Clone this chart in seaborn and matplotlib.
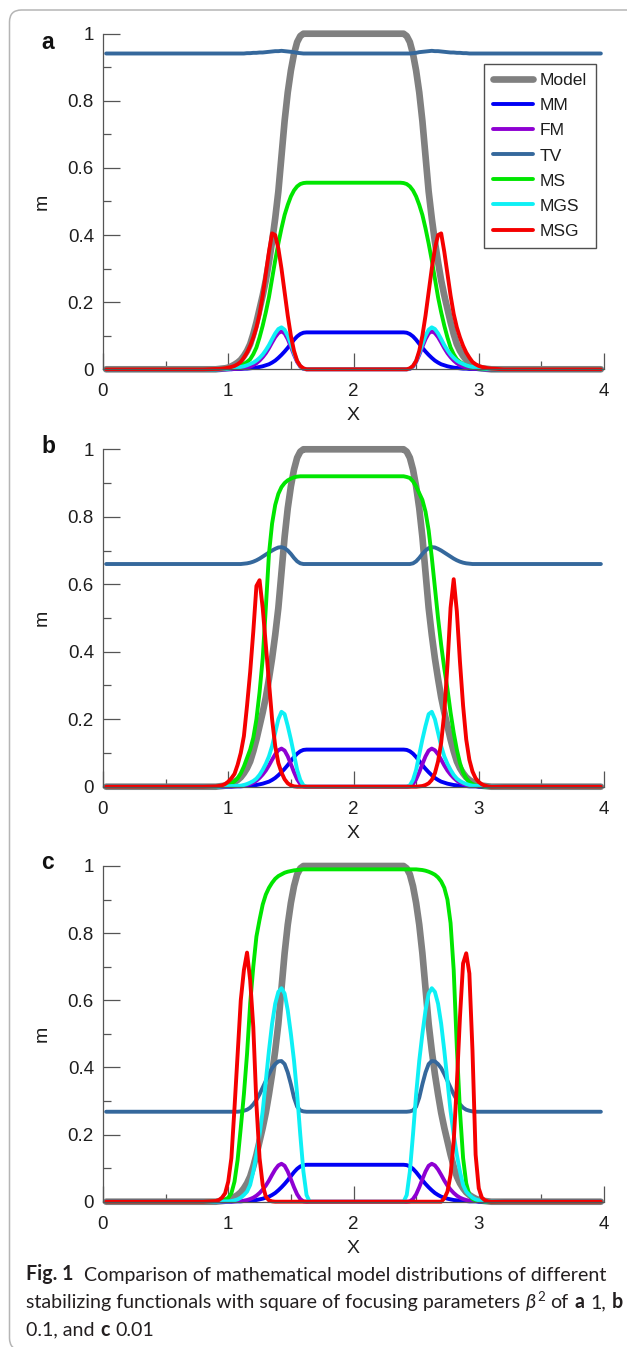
import matplotlib
matplotlib.use("Agg")
import matplotlib.pyplot as plt
import seaborn as sns
import pandas as pd
from matplotlib.lines import Line2D
from matplotlib.patches import FancyBboxPatch
from matplotlib.transforms import IdentityTransform

# ---------------- data ----------------
X = [0.025, 0.8,
     0.9, 0.925, 0.95, 0.975, 1.0, 1.025, 1.05, 1.075, 1.1, 1.125, 1.15, 1.175, 1.2, 1.225, 1.25, 1.275,
     1.3, 1.325, 1.35, 1.375, 1.4, 1.425, 1.45, 1.475, 1.5, 1.525, 1.55, 1.575, 1.6, 1.625, 1.65, 1.675, 1.7,
     2.3, 2.325, 2.35, 2.375, 2.4, 2.425, 2.45, 2.475, 2.5, 2.525, 2.55, 2.575, 2.6, 2.625, 2.65, 2.675,
     2.7, 2.725, 2.75, 2.775, 2.8, 2.825, 2.85, 2.875, 2.9, 2.925, 2.95, 2.975, 3.0, 3.025, 3.05, 3.075, 3.1,
     3.2, 3.975]

MODEL = [0, 0,
         0.0, 0.001, 0.002, 0.003, 0.005, 0.009, 0.014, 0.02, 0.028, 0.04, 0.055, 0.075, 0.105, 0.14, 0.18, 0.22,
         0.265, 0.32, 0.38, 0.45, 0.53, 0.635, 0.74, 0.825, 0.89, 0.94, 0.975, 0.993, 1.0, 1.0, 1.0, 1.0, 1.0,
         1.0, 1.0, 1.0, 1.0, 1.0, 0.993, 0.975, 0.94, 0.89, 0.825, 0.74, 0.635, 0.53, 0.45, 0.38, 0.32,
         0.265, 0.22, 0.18, 0.14, 0.105, 0.075, 0.055, 0.04, 0.028, 0.02, 0.014, 0.009, 0.005, 0.003, 0.002, 0.001, 0.0,
         0, 0]
MM = [0, 0,
      0, 0, 0, 0, 0, 0, 0.001, 0.001, 0.001, 0.002, 0.002, 0.003, 0.004, 0.005, 0.007, 0.009,
      0.012, 0.015, 0.02, 0.026, 0.034, 0.043, 0.053, 0.064, 0.076, 0.088, 0.098, 0.105, 0.109, 0.11, 0.11, 0.11, 0.11,
      0.11, 0.11, 0.11, 0.11, 0.11, 0.109, 0.105, 0.098, 0.088, 0.076, 0.064, 0.053, 0.043, 0.034, 0.026, 0.02,
      0.015, 0.012, 0.009, 0.007, 0.005, 0.004, 0.003, 0.002, 0.002, 0.001, 0.001, 0.001, 0, 0, 0, 0, 0,
      0, 0]
FM = [0, 0,
      0, 0, 0, 0, 0, 0.001, 0.001, 0.002, 0.002, 0.003, 0.005, 0.008, 0.012, 0.018, 0.026, 0.036,
      0.048, 0.063, 0.08, 0.096, 0.108, 0.113, 0.107, 0.09, 0.067, 0.043, 0.022, 0.008, 0.001, 0, 0, 0, 0,
      0, 0, 0, 0, 0, 0, 0.001, 0.008, 0.022, 0.043, 0.067, 0.09, 0.107, 0.113, 0.108, 0.096,
      0.08, 0.063, 0.048, 0.036, 0.026, 0.018, 0.012, 0.008, 0.005, 0.003, 0.002, 0.002, 0.001, 0.001, 0, 0, 0,
      0, 0]

TV_A = [0.941, 0.941,
        0.941, 0.941, 0.941, 0.941, 0.941, 0.941, 0.941, 0.941, 0.941, 0.941, 0.942, 0.942, 0.943, 0.943, 0.944, 0.944,
        0.945, 0.946, 0.947, 0.948, 0.948, 0.949, 0.948, 0.947, 0.946, 0.945, 0.943, 0.942, 0.941, 0.941, 0.941, 0.941, 0.941,
        0.941, 0.941, 0.941, 0.941, 0.941, 0.941, 0.941, 0.942, 0.943, 0.945, 0.946, 0.947, 0.948, 0.949, 0.948, 0.948,
        0.947, 0.946, 0.945, 0.944, 0.944, 0.943, 0.943, 0.942, 0.942, 0.941, 0.941, 0.941, 0.941, 0.941, 0.941, 0.941, 0.941,
        0.941, 0.941]
MS_A = [0, 0,
        0.0, 0.001, 0.001, 0.002, 0.002, 0.004, 0.006, 0.009, 0.012, 0.016, 0.022, 0.03, 0.045, 0.065, 0.095, 0.13,
        0.17, 0.215, 0.27, 0.325, 0.375, 0.42, 0.46, 0.49, 0.515, 0.533, 0.545, 0.552, 0.555, 0.556, 0.556, 0.556, 0.556,
        0.556, 0.556, 0.556, 0.556, 0.555, 0.552, 0.545, 0.533, 0.515, 0.49, 0.46, 0.42, 0.375, 0.325, 0.27, 0.215,
        0.17, 0.13, 0.095, 0.065, 0.045, 0.03, 0.022, 0.016, 0.012, 0.009, 0.006, 0.004, 0.002, 0.002, 0.001, 0.001, 0.0,
        0, 0]
MGS_A = [0, 0,
         0, 0, 0.001, 0.001, 0.002, 0.003, 0.004, 0.005, 0.007, 0.009, 0.012, 0.016, 0.02, 0.026, 0.034, 0.044,
         0.057, 0.072, 0.09, 0.107, 0.12, 0.125, 0.118, 0.1, 0.075, 0.048, 0.025, 0.009, 0.002, 0, 0, 0, 0,
         0, 0, 0, 0, 0, 0, 0.002, 0.009, 0.025, 0.048, 0.075, 0.1, 0.118, 0.125, 0.12, 0.107,
         0.09, 0.072, 0.057, 0.044, 0.034, 0.026, 0.02, 0.016, 0.012, 0.009, 0.007, 0.005, 0.004, 0.003, 0.002, 0.001, 0.001,
         0, 0]
MSG_A = [0, 0,
         0.001, 0.001, 0.002, 0.003, 0.005, 0.007, 0.01, 0.015, 0.022, 0.035, 0.05, 0.07, 0.095, 0.125, 0.165, 0.22,
         0.285, 0.35, 0.405, 0.4, 0.36, 0.3, 0.23, 0.16, 0.1, 0.055, 0.025, 0.01, 0.003, 0, 0, 0, 0,
         0, 0, 0, 0, 0, 0, 0.003, 0.01, 0.025, 0.055, 0.1, 0.16, 0.23, 0.3, 0.36, 0.4,
         0.405, 0.35, 0.285, 0.22, 0.165, 0.125, 0.095, 0.07, 0.05, 0.035, 0.022, 0.015, 0.01, 0.007, 0.005, 0.003, 0.002,
         0, 0]

TV_B = [0.66, 0.66,
        0.66, 0.66, 0.66, 0.66, 0.66, 0.66, 0.66, 0.66, 0.66, 0.661, 0.662, 0.664, 0.667, 0.671, 0.676, 0.682,
        0.688, 0.694, 0.7, 0.705, 0.709, 0.71, 0.707, 0.7, 0.69, 0.678, 0.668, 0.662, 0.66, 0.66, 0.66, 0.66, 0.66,
        0.66, 0.66, 0.66, 0.66, 0.66, 0.66, 0.66, 0.662, 0.668, 0.678, 0.69, 0.7, 0.707, 0.71, 0.709, 0.705,
        0.7, 0.694, 0.688, 0.682, 0.676, 0.671, 0.667, 0.664, 0.662, 0.661, 0.66, 0.66, 0.66, 0.66, 0.66, 0.66, 0.66,
        0.66, 0.66]
MS_B = [0, 0,
        0.0, 0.001, 0.002, 0.004, 0.006, 0.01, 0.016, 0.025, 0.04, 0.06, 0.085, 0.11, 0.145, 0.2, 0.28, 0.38,
        0.53, 0.69, 0.78, 0.835, 0.868, 0.888, 0.9, 0.908, 0.913, 0.917, 0.919, 0.92, 0.92, 0.92, 0.92, 0.92, 0.92,
        0.92, 0.92, 0.92, 0.92, 0.92, 0.918, 0.915, 0.905, 0.89, 0.87, 0.85, 0.815, 0.76, 0.68, 0.59, 0.5,
        0.42, 0.35, 0.29, 0.22, 0.16, 0.11, 0.07, 0.042, 0.025, 0.014, 0.008, 0.004, 0.002, 0.001, 0, 0, 0,
        0, 0]
MGS_B = [0, 0,
         0, 0, 0.001, 0.001, 0.001, 0.002, 0.002, 0.003, 0.003, 0.005, 0.008, 0.012, 0.017, 0.024, 0.035, 0.05,
         0.068, 0.09, 0.12, 0.16, 0.2, 0.222, 0.215, 0.18, 0.14, 0.095, 0.05, 0.02, 0.004, 0, 0, 0, 0,
         0, 0, 0, 0, 0, 0, 0.004, 0.02, 0.05, 0.095, 0.14, 0.18, 0.215, 0.222, 0.2, 0.16,
         0.12, 0.09, 0.068, 0.05, 0.035, 0.024, 0.017, 0.012, 0.008, 0.005, 0.003, 0.003, 0.002, 0.002, 0.001, 0.001, 0.001,
         0, 0]
MSG_B = [0, 0,
         0.001, 0.002, 0.004, 0.008, 0.015, 0.025, 0.038, 0.065, 0.1, 0.15, 0.24, 0.34, 0.46, 0.595, 0.612, 0.53,
         0.42, 0.31, 0.2, 0.12, 0.07, 0.042, 0.022, 0.01, 0.004, 0.001, 0, 0, 0, 0, 0, 0, 0,
         0, 0, 0, 0, 0, 0, 0, 0, 0, 0.001, 0.002, 0.005, 0.01, 0.02, 0.04, 0.075,
         0.13, 0.22, 0.36, 0.53, 0.615, 0.52, 0.37, 0.24, 0.14, 0.08, 0.045, 0.025, 0.014, 0.007, 0.003, 0.001, 0,
         0, 0]

TV_C = [0.268, 0.268,
        0.268, 0.268, 0.268, 0.268, 0.268, 0.268, 0.268, 0.268, 0.269, 0.271, 0.274, 0.28, 0.29, 0.303, 0.32, 0.34,
        0.36, 0.38, 0.398, 0.41, 0.418, 0.419, 0.41, 0.385, 0.35, 0.31, 0.283, 0.272, 0.269, 0.268, 0.268, 0.268, 0.268,
        0.268, 0.268, 0.268, 0.268, 0.268, 0.268, 0.269, 0.272, 0.283, 0.31, 0.35, 0.385, 0.41, 0.419, 0.418, 0.41,
        0.398, 0.38, 0.36, 0.34, 0.32, 0.303, 0.29, 0.28, 0.274, 0.271, 0.269, 0.268, 0.268, 0.268, 0.268, 0.268, 0.268,
        0.268, 0.268]
MS_C = [0, 0,
        0.001, 0.002, 0.003, 0.006, 0.012, 0.025, 0.06, 0.125, 0.22, 0.32, 0.44, 0.59, 0.7, 0.79, 0.84, 0.885,
        0.915, 0.935, 0.95, 0.962, 0.97, 0.975, 0.98, 0.983, 0.985, 0.987, 0.988, 0.989, 0.99, 0.99, 0.99, 0.99, 0.99,
        0.99, 0.99, 0.99, 0.99, 0.99, 0.99, 0.99, 0.99, 0.99, 0.989, 0.988, 0.986, 0.983, 0.979, 0.974, 0.966,
        0.954, 0.935, 0.9, 0.83, 0.69, 0.46, 0.27, 0.13, 0.055, 0.02, 0.008, 0.004, 0.002, 0.001, 0, 0, 0,
        0, 0]
MGS_C = [0, 0,
         0, 0, 0.001, 0.001, 0.001, 0.002, 0.004, 0.007, 0.012, 0.02, 0.03, 0.05, 0.09, 0.14, 0.2, 0.27,
         0.36, 0.45, 0.53, 0.59, 0.625, 0.636, 0.62, 0.57, 0.5, 0.42, 0.32, 0.2, 0.09, 0.02, 0, 0, 0,
         0, 0, 0, 0, 0, 0.02, 0.09, 0.2, 0.32, 0.42, 0.5, 0.57, 0.62, 0.636, 0.625, 0.59,
         0.53, 0.45, 0.36, 0.27, 0.2, 0.14, 0.09, 0.05, 0.03, 0.02, 0.012, 0.007, 0.004, 0.002, 0.001, 0.001, 0.001,
         0, 0]
MSG_C = [0, 0,
         0.002, 0.005, 0.012, 0.025, 0.06, 0.13, 0.28, 0.44, 0.6, 0.69, 0.742, 0.66, 0.52, 0.29, 0.13, 0.05,
         0.015, 0.004, 0.001, 0, 0, 0, 0, 0, 0, 0, 0, 0, 0, 0, 0, 0, 0,
         0, 0, 0, 0, 0, 0, 0, 0, 0, 0, 0, 0, 0, 0, 0, 0,
         0, 0.01, 0.03, 0.08, 0.18, 0.35, 0.55, 0.71, 0.74, 0.68, 0.45, 0.14, 0.04, 0.012, 0.004, 0.001, 0,
         0, 0]

METHODS = ["Model", "MM", "FM", "TV", "MS", "MGS", "MSG"]
PANEL_LABELS = ["a", "b", "c"]
PANEL_SERIES = [
    [MODEL, MM, FM, TV_A, MS_A, MGS_A, MSG_A],
    [MODEL, MM, FM, TV_B, MS_B, MGS_B, MSG_B],
    [MODEL, MM, FM, TV_C, MS_C, MGS_C, MSG_C],
]
X_TICKS = [0, 1, 2, 3, 4]
Y_TICKS = [0, 0.2, 0.4, 0.6, 0.8, 1]
Y_TICK_LABELS = ["0", "0.2", "0.4", "0.6", "0.8", "1"]

# ---------------- style ----------------
COLORS = {"Model": "#808080", "MM": "#0000f5", "FM": "#8e00d2", "TV": "#35689c",
          "MS": "#00e600", "MGS": "#0ef0f5", "MSG": "#f50000"}
WIDTHS = {"Model": 4.8, "MM": 2.8, "FM": 2.8, "TV": 2.8, "MS": 2.8, "MGS": 2.8, "MSG": 2.8}

sns.set_theme(style="white")
plt.rcParams["font.family"] = ["Liberation Sans", "DejaVu Sans"]

W, H = 627, 1347
fig = plt.figure(figsize=(W / 100, H / 100), dpi=100)
fig.patch.set_facecolor("white")

def fx(px):
    return px / W

def fy(py):
    return 1 - py / H

AX_LEFT, AX_RIGHT = 103, 604
AX_Y = [(33.7, 369.3), (449.3, 786.7), (866.0, 1201.7)]
LETTER_BASE = [49, 453, 869]

TICK_C = "#555555"
TXT_C = "#1e1e1e"

for k in range(3):
    ytop, ybot = AX_Y[k]
    ax = fig.add_axes([fx(AX_LEFT), fy(ybot), (AX_RIGHT - AX_LEFT) / W, (ybot - ytop) / H])
    for name, vals in zip(METHODS, PANEL_SERIES[k]):
        df = pd.DataFrame({"x": X, "m": vals})
        sns.lineplot(data=df, x="x", y="m", color=COLORS[name], linewidth=WIDTHS[name],
                     sort=False, estimator=None, ax=ax)
    for ln in ax.get_lines():
        ln.set_clip_on(False)
        ln.set_solid_joinstyle("round")
        ln.set_solid_capstyle("round")

    ax.set_xlim(0, 4)
    ax.set_ylim(0, 1)
    ax.set_xticks(X_TICKS)
    ax.set_xticks([0.5, 1.5, 2.5, 3.5], minor=True)
    ax.set_yticks(Y_TICKS)
    ax.set_yticklabels(Y_TICK_LABELS)
    ax.set_yticks([0.1, 0.3, 0.5, 0.7, 0.9], minor=True)
    ax.tick_params(axis="x", which="major", direction="in", length=11.5, width=0.9, color=TICK_C,
                   pad=10, labelsize=13.5, labelcolor=TXT_C, top=False, bottom=True)
    ax.tick_params(axis="x", which="minor", direction="in", length=5.5, width=0.9, color=TICK_C,
                   top=False, bottom=True)
    ax.tick_params(axis="y", which="major", direction="in", length=12, width=0.9, color=TICK_C,
                   pad=6.5, labelsize=13.5, labelcolor=TXT_C, left=True, right=False)
    ax.tick_params(axis="y", which="minor", direction="in", length=5.8, width=0.9, color=TICK_C,
                   left=True, right=False)
    for s in ["top", "right"]:
        ax.spines[s].set_visible(False)
    for s in ["left", "bottom"]:
        ax.spines[s].set_color(TICK_C)
        ax.spines[s].set_linewidth(0.9)
    ax.set_xlabel("X", fontsize=14, color=TXT_C)
    ax.xaxis.set_label_coords(0.5, -(45 - 6.9) / (ybot - ytop))
    ax.set_ylabel("")
    ax.text((42 - AX_LEFT) / (AX_RIGHT - AX_LEFT), 0.5, "m", rotation=90, ha="center", va="center",
            fontsize=14, color=TXT_C, transform=ax.transAxes)
    fig.text(fx(48), fy(LETTER_BASE[k]), PANEL_LABELS[k], fontsize=16.5, fontweight="bold",
             ha="center", va="baseline", color="#111111")

    if k == 0:
        handles = [Line2D([0], [0], color=COLORS[n], lw=WIDTHS[n]) for n in METHODS]
        leg = ax.legend(handles, METHODS, loc="upper left", bbox_to_anchor=(0.760, 0.9097),
                        frameon=True, fancybox=False, edgecolor="#505050", framealpha=1,
                        fontsize=12.6, labelspacing=0.56, handlelength=2.3, handletextpad=0.4,
                        borderpad=0.52, borderaxespad=0)
        leg.get_frame().set_linewidth(1.0)
        for t in leg.get_texts():
            t.set_color(TXT_C)

# ---------------- caption ----------------
CAP_FONT = ["Lato", "DejaVu Sans"]
CAP_C = "#231f20"
renderer = fig.canvas.get_renderer()

def text_w(s, size, weight="normal", style="normal"):
    t = fig.text(0, 0, s, fontsize=size, fontweight=weight, fontstyle=style, family=CAP_FONT)
    w = t.get_window_extent(renderer).width
    t.remove()
    return w

base_size = 13.0
sp0 = text_w("x x", base_size) - text_w("xx", base_size)
w0 = text_w("Fig. 1", base_size, "bold") + 2 * sp0 + \
    text_w("Comparison of mathematical model distributions of different", base_size)
CAP_SIZE = base_size * 578 / w0
SP = text_w("x x", CAP_SIZE) - text_w("xx", CAP_SIZE)

def draw_line(runs, x0, base):
    x = x0
    for item in runs:
        if item == " ":
            x += SP
            continue
        s, weight, style, dy, scale = item
        t = fig.text(fx(x), fy(base - dy), s, fontsize=CAP_SIZE * scale, fontweight=weight,
                     fontstyle=style, family=CAP_FONT, ha="left", va="baseline", color=CAP_C)
        x += t.get_window_extent(renderer).width + 0.8

R = ("normal", "normal", 0, 1.0)
B = ("bold", "normal", 0, 1.0)
draw_line([("Fig. 1",) + B, " ", " ",
           ("Comparison of mathematical model distributions of different",) + R], 26, 1280.5)
draw_line([("stabilizing functionals with square of focusing parameters",) + R, " ",
           ("β", "normal", "italic", 0, 1.0), ("2", "normal", "normal", 7, 0.68), " ",
           ("of",) + R, " ", ("a",) + B, " ", ("1,",) + R, " ", ("b",) + B], 26, 1308.3)
draw_line([("0.1, and",) + R, " ", ("c",) + B, " ", ("0.01",) + R], 26, 1335.7)

# ---------------- outer rounded frame ----------------
frame = FancyBboxPatch((9.5, -3), 660, H - 10 + 3, boxstyle="round,pad=0,rounding_size=12",
                       transform=IdentityTransform(), fill=False, edgecolor="#b5b5b5", lw=1.1)
fig.add_artist(frame)

fig.savefig("out.png", dpi=100, facecolor="white")
